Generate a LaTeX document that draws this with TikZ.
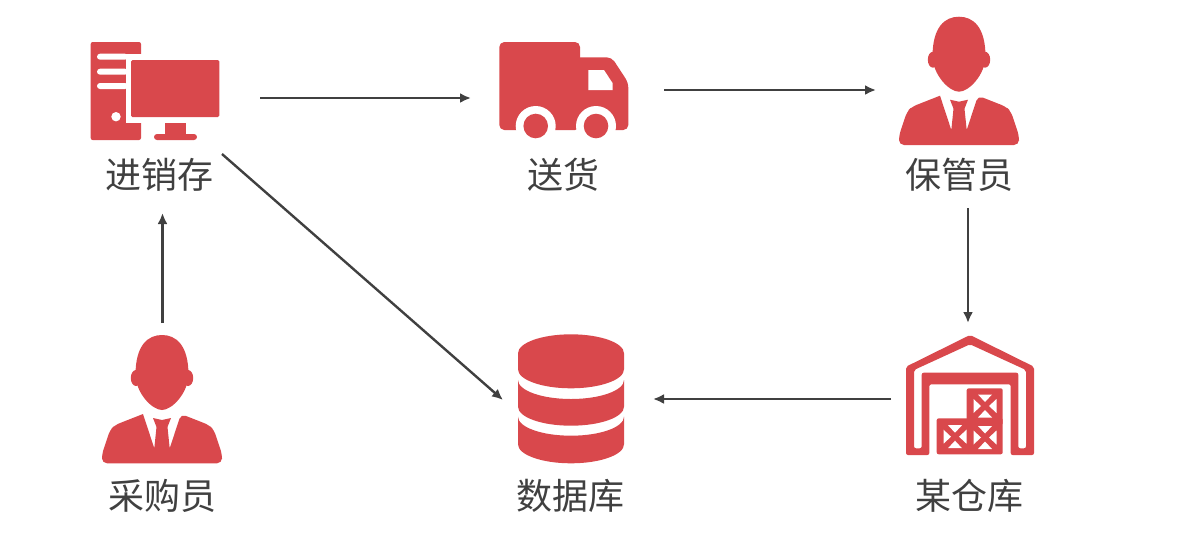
\documentclass[tikz,border=0pt]{standalone}
\usepackage{fontspec}
\setmainfont{Noto Sans CJK SC}
\usetikzlibrary{arrows.meta}
\definecolor{iconred}{HTML}{D9484C}
\definecolor{inkgray}{HTML}{404040}
\tikzset{
  iconname/.style={text=inkgray,font=\fontsize{36}{40}\selectfont,inner sep=0pt},
  flow/.style={draw=inkgray,line width=2.4pt,-{Latex[length=11pt,width=10pt]}},
  person/.pic={
    % head and ears
    \fill[iconred] (-26.5,40) .. controls (-26.5,10) and (-14,0) .. (0,0) .. controls (14,0) and (26.5,10) .. (26.5,40) .. controls (26,58) and (10,75) .. (0,75) .. controls (-10,75) and (-26,58) .. (-26.5,40) -- cycle;
    \fill[iconred] (-26,43) ellipse [x radius=5.2,y radius=8];
    \fill[iconred] (26,43) ellipse [x radius=5.2,y radius=8];
    % suit
    \fill[iconred,rounded corners=5pt] (-19,79) -- (-47,90) -- (-52,95) -- (-60,119) -- (-60,128.3) -- (60,128.3) -- (60,119) -- (52,95) -- (47,90) -- (19,79) [sharp corners] -- (7.7,113.3) -- (5.5,92) -- (9,83) -- (0,85) -- (-9,83) -- (-5.5,92) -- (-7.7,113.3) -- cycle;
  },
  crate/.pic={
    \foreach \r in {0,90,180,270}
      \fill[white,rotate=\r] (-7,-11.5) -- (7,-11.5) -- (0,-4) -- cycle;
  }
}
\begin{document}
\begin{tikzpicture}[x=1pt,y=-1pt]
\useasboundingbox (0,0) rectangle (1191,550);
% computer
\fill[iconred,rounded corners=2pt] (90.7,42) rectangle (141,140);
\fill[white] (126,53.7) rectangle (145,123);
\foreach \y in {56.7,71.7,86} \fill[white,rounded corners=3pt] (97,\y-3) rectangle (128,\y+3);
\fill[white] (116,116.7) circle (4.7);
\fill[iconred,rounded corners=1.5pt] (131,60) rectangle (219.3,117);
\fill[iconred] (165,123) rectangle (186,135);
\fill[iconred,rounded corners=3pt] (154,134) rectangle (197,140);
% truck
\fill[iconred,rounded corners=5pt] (499.3,42) -- (580,42) -- (580,60) -- (580,130) -- (499.3,130) -- cycle;
\fill[iconred,rounded corners=5pt] (575,57.3) -- (611.7,57.3) -- (628.3,82.7) -- (628.3,130) -- (575,130) -- cycle;
\fill[white] (588.3,70) -- (604,70) -- (612.7,83.3) -- (612.7,90) -- (588.3,90) -- cycle;
\fill[white] (535.7,126) circle (20);
\fill[white] (596,126) circle (20);
\fill[iconred] (535.7,126) circle (12.3);
\fill[iconred] (596,126) circle (12.3);
% people
\pic (keeper) at (959,16.7) {person};
\pic (buyer) at (162,335) {person};
% warehouse
\fill[iconred,rounded corners=2pt,even odd rule] (970,335) -- (906,366.7) -- (906,455) -- (929.3,455) -- (929.3,384.3) -- (1010.7,384.3) -- (1010.7,455) -- (1034,455) -- (1034,366.7) -- cycle
  (970,344.3) -- (914,370) -- (914,448.3) -- (921.7,448.3) -- (921.7,372.7) -- (1018.3,372.7) -- (1018.3,448.3) -- (1026,448.3) -- (1026,370) -- cycle;
\fill[iconred,rounded corners=2pt] (966.7,388.3) rectangle (1002.7,425);
\fill[iconred,rounded corners=2pt] (966.7,418) rectangle (1002.7,454.3);
\fill[iconred,rounded corners=2pt] (936.7,418.3) rectangle (970,454.3);
\pic (cratetop) at (985,406) {crate};
\pic (crateleft) at (955,436.7) {crate};
\pic (crateright) at (985,437.5) {crate};
% database
\fill[iconred] (518,353.3) arc[start angle=180,end angle=360,x radius=53,y radius=19] -- (624,369.3) arc[start angle=0,end angle=180,x radius=53,y radius=19] -- cycle;
\fill[iconred] (518,380) arc[start angle=180,end angle=0,x radius=53,y radius=19] -- (624,406.7) arc[start angle=0,end angle=180,x radius=53,y radius=19] -- cycle;
\fill[iconred] (518,416.7) arc[start angle=180,end angle=0,x radius=53,y radius=19] -- (624,444.3) arc[start angle=0,end angle=180,x radius=53,y radius=19] -- cycle;
% names
\node[iconname] (jxc) at (159,175) {进销存};
\node[iconname] (songhuo) at (563,175) {送货};
\node[iconname] (baoguan) at (959,175) {保管员};
\node[iconname] (caigou) at (162,496) {采购员};
\node[iconname] (shuju) at (570,496) {数据库};
\node[iconname] (cangku) at (969,496) {某仓库};
% arrow ends
\coordinate (jxcout) at (260,98);
\coordinate (truckin) at (471,98);
\coordinate (truckout) at (664,90);
\coordinate (keeperin) at (876,90);
\coordinate (keeperout) at (968,208);
\coordinate (storein) at (968,323);
\coordinate (storeout) at (891,399);
\coordinate (dbin) at (653,399);
\coordinate (buyerout) at (162.5,323);
\coordinate (jxcin) at (162.5,213);
\coordinate (jxcdiag) at (222,154);
\coordinate (dbdiag) at (503,400);
% arrows
\draw[flow] (jxcout) -- (truckin);
\draw[flow] (truckout) -- (keeperin);
\draw[flow] (keeperout) -- (storein);
\draw[flow] (storeout) -- (dbin);
\draw[flow] (buyerout) -- (jxcin);
\draw[flow] (jxcdiag) -- (dbdiag);
\end{tikzpicture}
\end{document}
